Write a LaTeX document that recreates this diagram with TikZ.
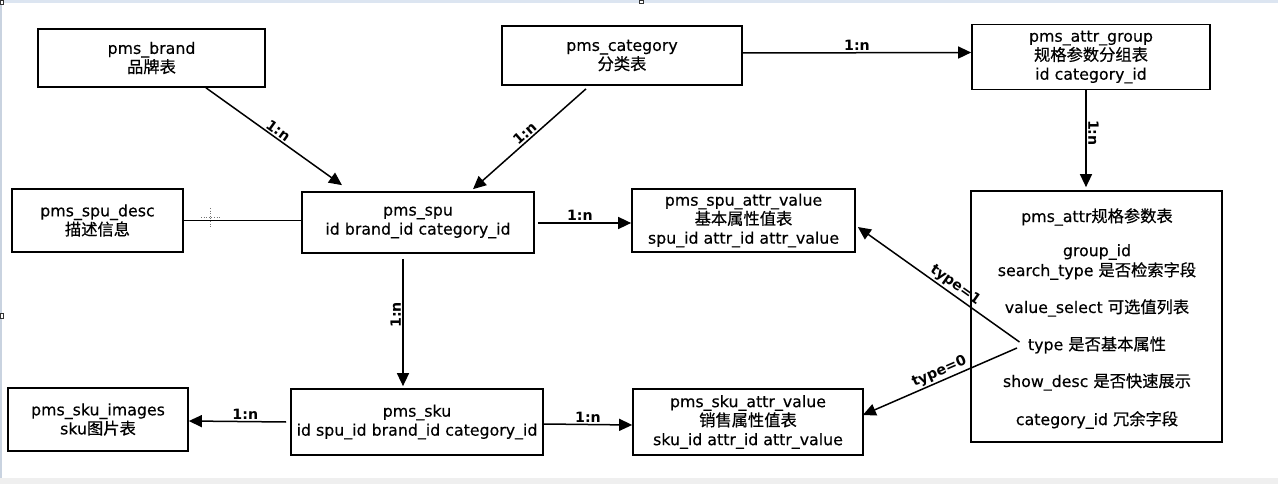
\documentclass[tikz,border=0pt]{standalone}
\usepackage{fontspec}
\setmainfont{DejaVu Sans}[UprightFeatures={FakeBold=0.35}]
\newfontfamily\cjk[Scale=1.03,FakeBold=0.5]{Noto Sans CJK SC}
\usetikzlibrary{arrows.meta,calc}
\definecolor{topbar}{HTML}{DCE5F1}
\definecolor{sideline}{HTML}{C9D3E0}
\definecolor{botbar}{HTML}{EFEFEF}
\begin{document}
\begin{tikzpicture}[x=1pt,y=-1pt,
  tbl/.style={draw,line width=1.7pt,align=center,inner sep=0pt,font=\fontsize{15.8}{19}\selectfont},
  fld/.style={inner sep=0pt,font=\fontsize{15.8}{19}\selectfont},
  lbl/.style={font=\bfseries\fontsize{14.2}{17}\selectfont,inner sep=1.5pt},
  rel/.style={line width=1.5pt,-{Triangle[length=13pt,width=12pt]}},
  ln/.style={line width=1.5pt},
  handle/.style={draw=black!80,fill=white,line width=0.6pt}]
\useasboundingbox (0,0) rectangle (1278,484);
\fill[white] (0,0) rectangle (1278,484);
% window frame
\fill[topbar] (0,0) rectangle (1278,3.5);
\fill[sideline] (0,0) rectangle (2,478);
\fill[botbar] (0,478) rectangle (1278,484);
\draw[handle] (0,0.5) rectangle (3,4);
\draw[handle] (639,0.5) rectangle (643,3.5);
\draw[handle] (0,313) rectangle (3,318);

% tables
\node[tbl,minimum width=227pt,minimum height=58pt] (brand) at (151.5,58) {pms\_brand\\{\cjk 品牌表}};
\node[tbl,minimum width=240pt,minimum height=59pt] (category) at (622,55.5) {pms\_category\\{\cjk 分类表}};
\node[tbl,minimum width=238pt,minimum height=65pt] (attrgroup) at (1091,57) {pms\_attr\_group\\{\cjk 规格参数分组表}\\id category\_id};
\node[tbl,minimum width=171pt,minimum height=63pt] (spudesc) at (97.5,220.5) {pms\_spu\_desc\\{\cjk 描述信息}};
\node[tbl,minimum width=232pt,minimum height=61pt] (spu) at (418,222.5) {pms\_spu\\id brand\_id category\_id};
\node[tbl,minimum width=223pt,minimum height=63pt] (spuav) at (743.5,220.5) {pms\_spu\_attr\_value\\{\cjk 基本属性值表}\\spu\_id attr\_id attr\_value};
\node[tbl,minimum width=251pt,minimum height=251pt] (attr) at (1096.5,316.5) {};
\node[tbl,minimum width=180pt,minimum height=63pt] (skuimg) at (98,419.5) {pms\_sku\_images\\sku{\cjk 图片表}};
\node[tbl,minimum width=252pt,minimum height=66pt] (sku) at (417,422) {pms\_sku\\id spu\_id brand\_id category\_id};
\node[tbl,minimum width=230pt,minimum height=66pt] (skuav) at (748,422) {pms\_sku\_attr\_value\\{\cjk 销售属性值表}\\sku\_id attr\_id attr\_value};

% fields of pms_attr
\node[fld] (ftitle) at (1097,217) {pms\_attr{\cjk 规格参数表}};
\node[fld] (fgroup) at (1097,252) {group\_id};
\node[fld] (fsearch) at (1097,271) {search\_type {\cjk 是否检索字段}};
\node[fld] (fvalue) at (1097,308) {value\_select {\cjk 可选值列表}};
\node[fld] (ftype) at (1097,345) {type {\cjk 是否基本属性}};
\node[fld] (fshow) at (1097,382) {show\_desc {\cjk 是否快速展示}};
\node[fld] (fcat) at (1097,420) {category\_id {\cjk 冗余字段}};

% connectors
\draw[rel] ([xshift=54.5pt]brand.south) -- ([xshift=-76pt,yshift=6pt]spu.north)
  node[lbl,pos=0.5,sloped,above] {1:n};
\draw[rel] ([xshift=-36pt,yshift=-3pt]category.south) -- ([xshift=55pt,yshift=2pt]spu.north)
  node[lbl,pos=0.5,sloped,above] {1:n};
\draw[rel] ([yshift=2.5pt]category.east) -- ([yshift=4.5pt]attrgroup.west)
  node[lbl,pos=0.5,above] {1:n};
\draw[rel] ([xshift=-5pt]attrgroup.south) -- ([xshift=-10.5pt,yshift=3pt]attr.north)
  node[lbl,pos=0.44,rotate=-90,anchor=south] {1:n};
\draw[rel] ([xshift=3pt,yshift=-0.5pt]spu.east) -- ([yshift=-2.5pt]spuav.west)
  node[lbl,pos=0.45,above] {1:n};
\draw[ln] (spudesc.east) -- (spudesc.east -| spu.west);
\draw[rel] ([xshift=-15pt,yshift=-5pt]spu.south) -- ([xshift=-14pt,yshift=2pt]sku.north)
  node[lbl,pos=0.44,rotate=90,anchor=south] {1:n};
\draw[rel] ([xshift=-4pt]sku.west) -- ([yshift=-1.5pt]skuimg.east)
  node[lbl,pos=0.42,above] {1:n};
\draw[rel] ([yshift=-2pt]sku.east) -- ([yshift=-3pt]skuav.west)
  node[lbl,pos=0.5,above] {1:n};
\draw[rel] ([xshift=-77pt,yshift=-25.5pt]attr.center) -- ([xshift=2pt,yshift=-6.5pt]spuav.east)
  node[lbl,pos=0.43,sloped,above] {type=1};
\draw[rel] ([xshift=-79.5pt,yshift=-31.5pt]attr.center) -- ([xshift=-1pt,yshift=7pt]skuav.east)
  node[lbl,pos=0.48,sloped,above] {type=0};

% mouse cursor
\coordinate (cur) at (210,217);
\draw[black!55,line width=0.6pt,dotted] ([yshift=9pt]cur) -- ([yshift=-10pt]cur);
\draw[black!55,line width=0.6pt,dotted] ([xshift=-9pt]cur) -- ([xshift=10pt]cur);
\end{tikzpicture}
\end{document}
